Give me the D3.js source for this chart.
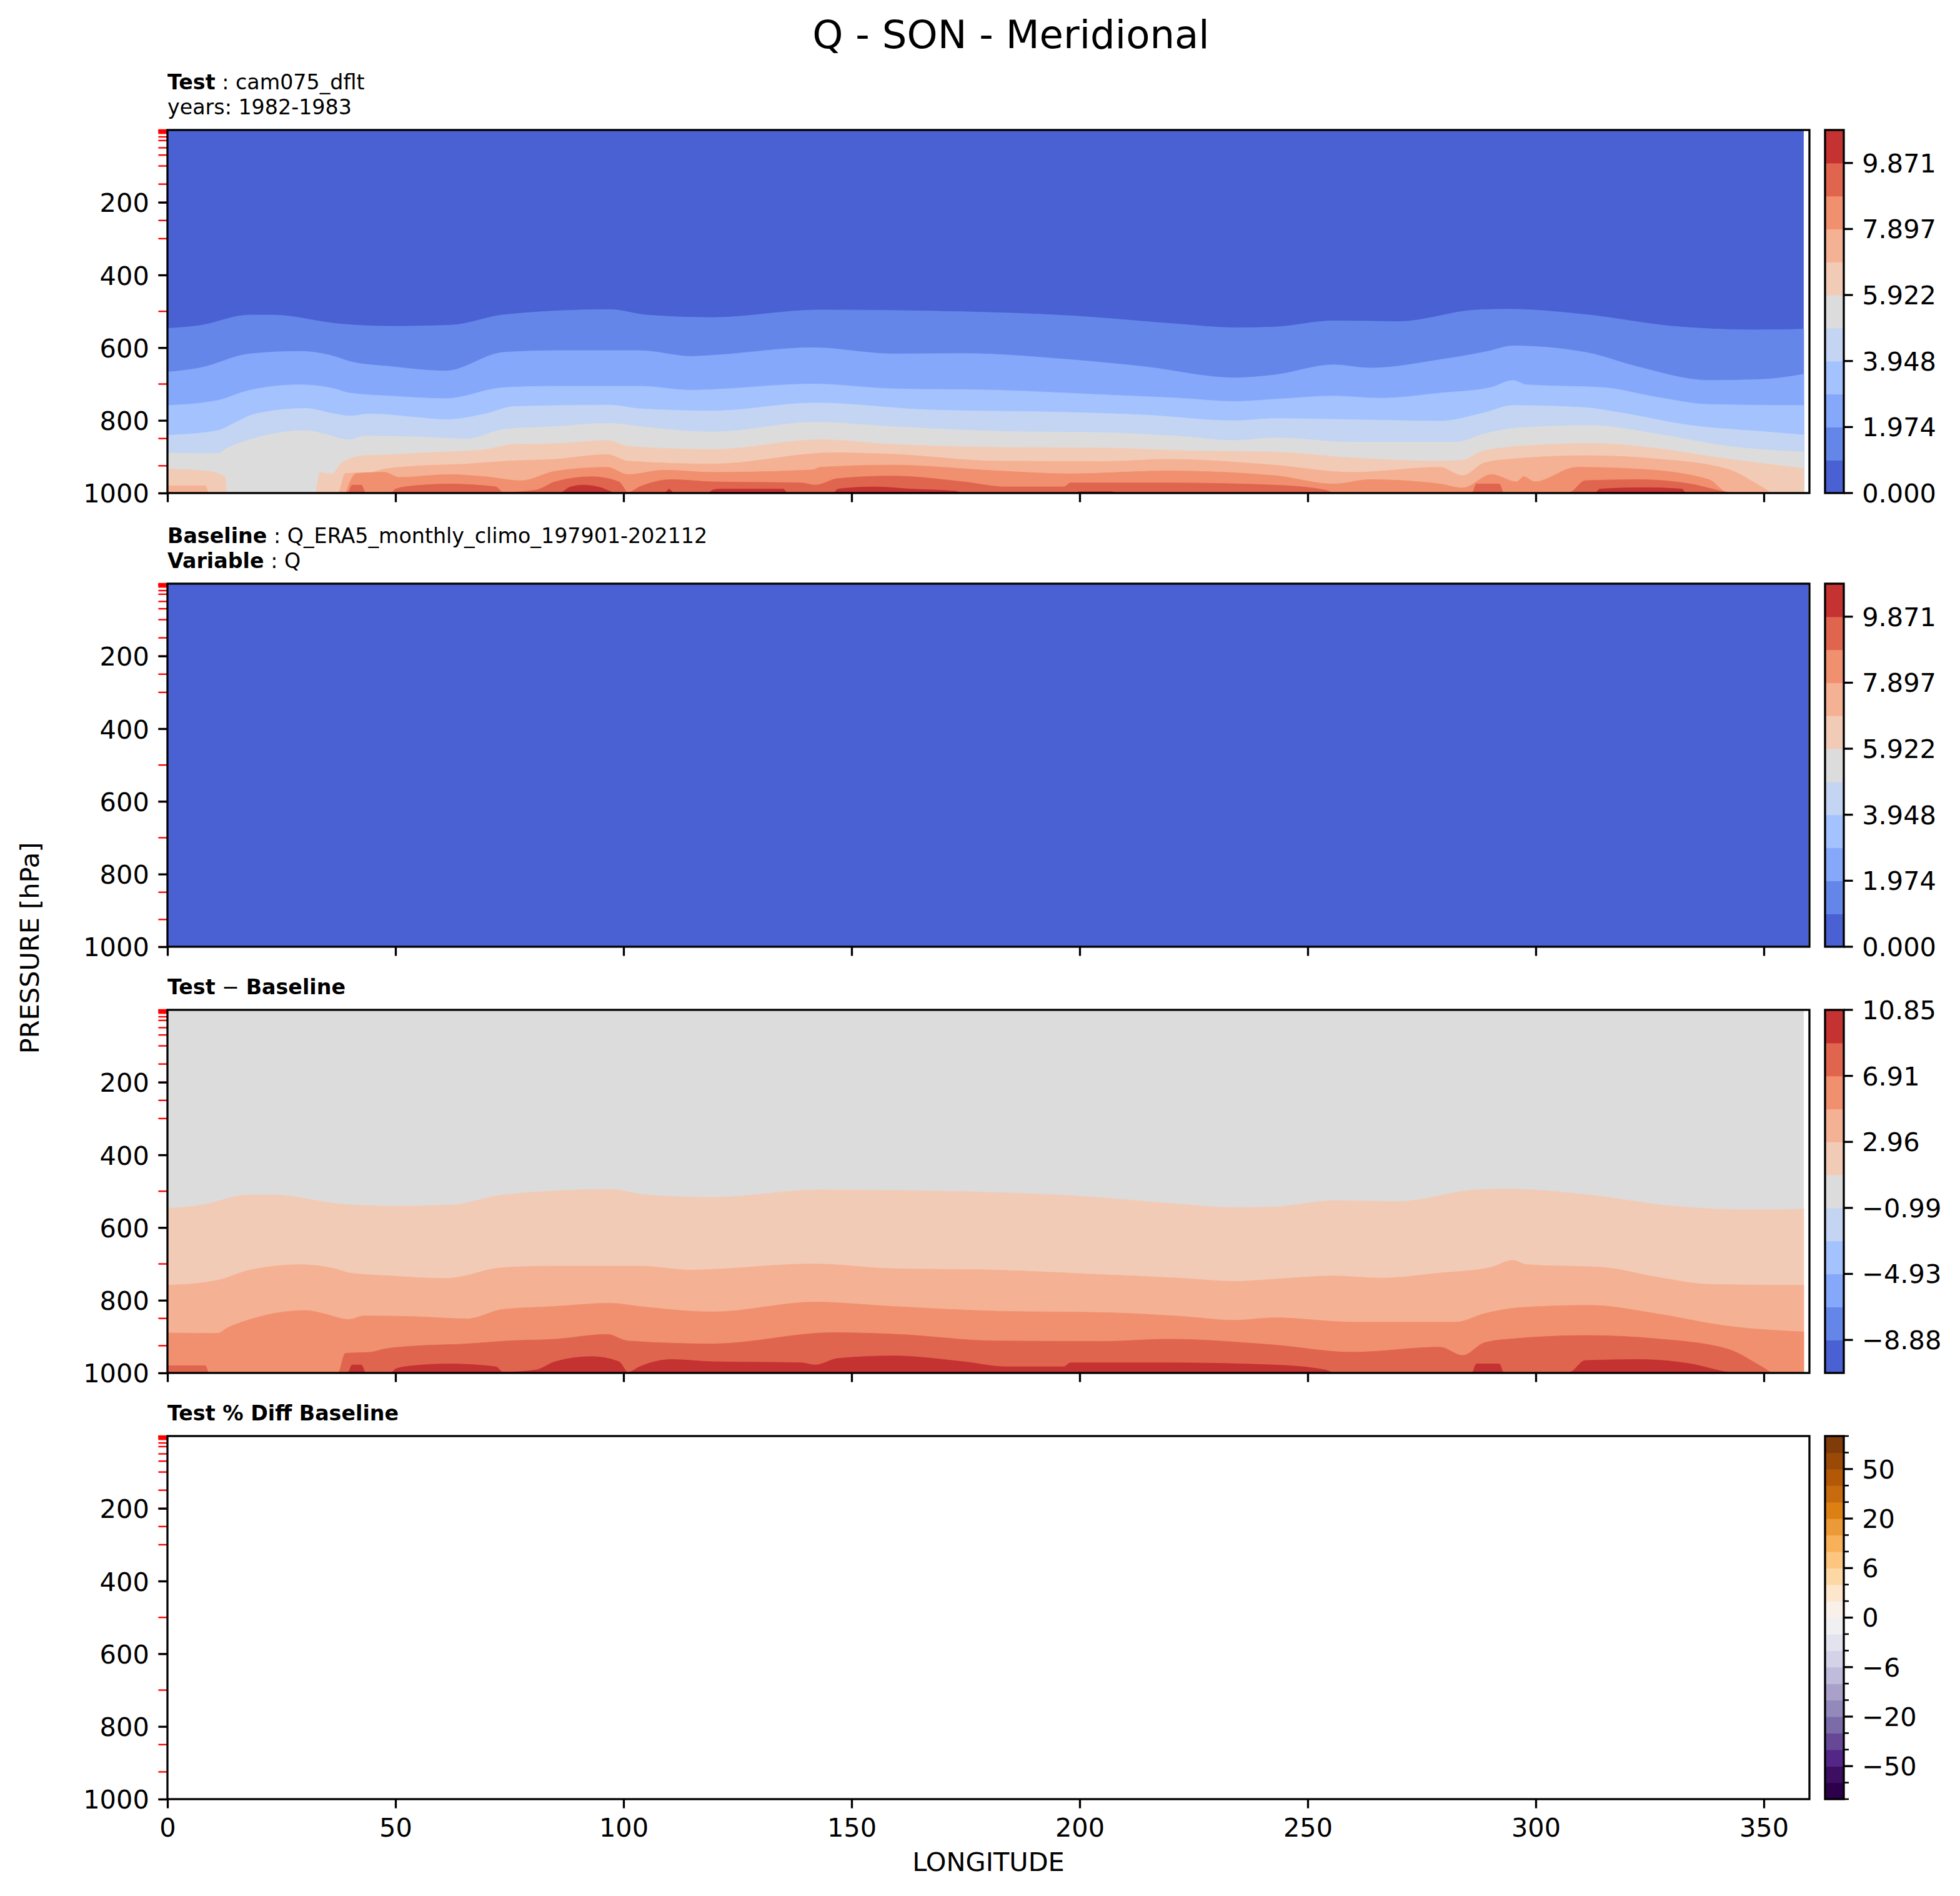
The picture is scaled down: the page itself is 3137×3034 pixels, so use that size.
<!DOCTYPE html>
<html>
<head>
<meta charset="utf-8">
<script src="https://cdn.jsdelivr.net/npm/d3@7"></script>
<style>
  body { margin: 0; background: #fff; }
  text { font-family: "DejaVu Sans", sans-serif; fill: #000; }
</style>
</head>
<body>
<svg id="fig" width="3137" height="3034"></svg>
<script>
// ---- values ----
const figTitle = "Q - SON - Meridional";

const lonTicks = [0, 50, 100, 150, 200, 250, 300, 350];
const presTicks = [200, 400, 600, 800, 1000];
const plevs = [1, 2, 3, 5, 7, 10, 20, 30, 50, 70, 100, 150, 200, 250, 300, 400, 500, 600, 700, 850, 925, 1000];

const qLevels = [0, 0.987, 1.974, 2.961, 3.948, 4.935, 5.922, 6.909, 7.897, 8.884, 9.871, 10.858];
const qTicks = [0, 1.974, 3.948, 5.922, 7.897, 9.871];
const diffLevels = [-10.854, -8.881, -6.907, -4.934, -2.960, -0.987, 0.987, 2.960, 4.934, 6.907, 8.881, 10.854];
const diffTicks = [-8.881, -4.934, -0.987, 2.960, 6.907, 10.854];
const pctLevels = [-100, -75, -50, -40, -30, -20, -10, -8, -6, -4, -2, 0, 2, 4, 6, 8, 10, 20, 30, 40, 50, 75, 100];
const pctTicks = [-50, -20, -6, 0, 6, 20, 50];

const coolwarm11 = ["#4961d2", "#6586e9", "#85a8fb", "#a4c2fe", "#c3d5f3", "#dcdcdc",
                    "#f2cbb7", "#f5b194", "#f1906f", "#e0654f", "#c43232"];
const puor22 = ["#2d004b", "#3d0e61", "#532787", "#664896", "#7b6ba8", "#9389ba", "#aaa1cb",
                "#bfbbda", "#d3d2e7", "#e3e3ef", "#f0f0f2", "#f9f0e9", "#fee6cc", "#fdd8a4",
                "#fdc57f", "#f8b059", "#ec9a37", "#dc8014", "#c86a0e", "#b35806", "#9a4a06", "#7f3b08"];

// test Q (g/kg): pressure (hPa) of each contour level along longitude, [lon, p]
const qBnd1 = [[0,547],[7,539],[18,510],[23,510],[38,535],[49,541],[62,538],[74,509],[97,495],[105,510],
  [119.5,517],[143,496],[174.5,501],[198,512],[221.6,535],[234,545],[242.7,543],[255.7,526],[270,528],
  [287,496],[294,494],[311,509],[330,541],[348,551],[358.75,549]];
const qBnd2 = [[0,667],[7,656],[18,617],[29,610],[36.6,624],[40,638],[49,652],[61,664],[73.6,613],[85,608],
  [103.5,608],[115,624],[119.5,621],[141.5,600],[159,617],[174.5,616],[198,633],[214,652],[234,683],
  [242.7,675],[255.7,647],[263.6,656],[279,633],[289.5,610],[295,595],[311,613],[322.5,653],[338,690],
  [350,687],[358.75,673]];
const qBnd3 = [[0,759],[11,745],[18,717],[29,702],[36.6,713],[40,725],[49,733],[61,740],[73.6,710],[85,706],
  [103.5,706],[115,717],[119.5,715],[141.5,700],[159,713],[182,717],[206,730],[222,739],[234,748],
  [242.7,742],[255.7,733],[266,739],[279,725],[290,710],[295,690],[298,702],[315,710],[326.5,736],
  [338,756],[358.75,759]];
const qBnd4 = [[0,841],[11,828],[14.6,808],[19.3,782],[30.3,767],[36.6,782],[40,788],[44.5,782],[54,791],
  [61,798],[69.7,782],[76,762],[97,758],[103.5,768],[119.5,774],[142,752],[166.6,771],[198,778],[214,785],
  [234,801],[242.7,795],[263.6,799],[279,802],[288.7,779],[295,759],[311,765],[318.6,779],[334,814],
  [350,831],[358.75,840]];
const qBnd5 = [[0,890],[11,891],[13,877],[17.8,854],[30.3,828],[34.3,837],[39.8,853],[43,843],[54,845],
  [65.7,851],[73.6,825],[85,817],[97,808],[103.5,817],[119.5,832],[142,805],[159,817],[182,830],[206,834],
  [222,844],[234,855],[242.7,848],[259.7,860],[282.5,860],[288.7,837],[296.6,820],[312,814],[326.5,837],
  [342,871],[358.75,887]];
const qBnd6 = [[0,934],[9,940],[12.7,957],[13,1000],[32.3,1000],[33.5,943],[36,948],[38.2,917],[43,897],
  [49,894],[58.6,888],[69.7,880],[76,866],[85,864],[96.4,855],[101,871],[119.5,880],[143,853],[159,866],
  [182,874],[206,876],[222,883],[242.7,887],[259.7,903],[279,912],[284,909],[288.7,883],[303,866],
  [312,863],[326.5,877],[342,906],[358.75,932]];
const qBnd7 = [[0,980],[8.3,980],[9.1,1000],[37.4,1000],[39,946],[44.5,943],[47.6,934],[54,926],[65.7,920],
  [74.4,912],[85,907],[96.4,894],[101,912],[119.5,920],[146,889],[159,893],[182,912],[206,913],[219,907],
  [242.7,923],[259.7,943],[279,929],[284,952],[288.7,917],[295,906],[311,897],[326.5,906],[342,934],
  [350,986],[352,1000],[358.75,1000]];
const qBnd8 = [[0,1000],[39,1000],[39.8,975],[41.4,946],[47.6,943],[50.8,957],[61.8,949],[69.7,955],
  [77.5,966],[85,940],[96.4,929],[101,949],[109,937],[119.5,943],[141.5,936],[143,929],[159,923],[182,939],
  [198,947],[219,939],[242.7,952],[255.7,975],[263.6,963],[279,975],[284,986],[290.3,949],[295.8,969],
  [297.4,955],[299.7,969],[309,929],[322.5,934],[338,963],[342,998],[346,1000],[358.75,1000]];
const qBnd9 = [[0,1000],[39.5,1000],[40.5,978],[42.5,978],[43.5,1000],[49,1000],[50,989],[54,980],
  [61.8,975],[72,983],[73.6,998],[80.7,992],[85,969],[93,955],[99,969],[101,998],[103.5,983],[110.5,963],
  [119.5,969],[139,972],[142,978],[147,960],[159,953],[174.5,969],[184,983],[196.5,983],[198,972],
  [219,972],[242.7,978],[254,992],[255.7,1000],[286,1000],[287,975],[292,975],[293,1000],[307,1000],
  [307.6,998],[310.8,966],[322.5,963],[334,975],[342,998],[343,1000],[358.75,1000]];
const qBnd10 = [[0,1000],[86,1000],[88,985],[91,978],[95,985],[97,995],[98,1000],[109,1000],[110,989],
  [111,1000],[118.5,1000],[119.5,992],[121,989],[135,989],[136,1000],[146,1000],[147,989],[155,983],
  [163,989],[173,995],[174,1000],[199,1000],[200,996],[207,996],[208,1000],[313,1000],[314,989],
  [324,985],[332,989],[333,1000],[358.75,1000]];

const testLonMax = 358.75;
const testMin = 0.0;          // g/kg near model top
const baseLonMax = 359.75;
const baseMin = 0.0;          // baseline is in kg/kg, all values < 0.02
const baseMax = 0.0195;
const pctMin = 1200;          // % difference is far outside the contour range

// ---- layout ----
const axL = 268, axR = 2896, cbL = 2921, cbW = 30;
const lw = 3.3, tickLen = 14.6, tickPad = 14.6;
const tickFont = 41.5, labFont = 33.3;

const svg = d3.select("#fig");

const x = d3.scaleLinear().domain([0, 360]).range([axL, axR]);

const qContours = [qBnd1, qBnd2, qBnd3, qBnd4, qBnd5, qBnd6, qBnd7, qBnd8, qBnd9, qBnd10]
  .map((pts, i) => ({ level: qLevels[i + 1], pts: pts }));

const panels = [
  { top: 208, lines: [[["Test", true], [" : cam075_dflt", false]], [["years: 1982-1983", false]]],
    contours: qContours, vmin: testMin, lonMax: testLonMax,
    levels: qLevels, colors: coolwarm11, ticks: qTicks, fmt: d => d.toFixed(3) },
  { top: 934, lines: [[["Baseline", true], [" : Q_ERA5_monthly_climo_197901-202112", false]], [["Variable", true], [" : Q", false]]],
    contours: qContours.filter(c => c.level <= baseMax), vmin: baseMin, lonMax: baseLonMax,
    levels: qLevels, colors: coolwarm11, ticks: qTicks, fmt: d => d.toFixed(3) },
  { top: 1616, lines: [[["Test", true], [" \u2212 ", false], ["Baseline", true]]],
    contours: qContours, vmin: testMin - baseMax, lonMax: testLonMax,
    levels: diffLevels, colors: coolwarm11, ticks: diffTicks, fmt: d => d.toFixed(2).replace("-", "\u2212") },
  { top: 2298, lines: [[["Test % Diff Baseline", true]]],
    contours: [], vmin: pctMin, lonMax: testLonMax,
    levels: pctLevels, colors: puor22, ticks: pctTicks, fmt: d => String(d).replace("-", "\u2212") }
];
const panelH = 581;

// title
svg.append("text")
  .attr("x", 1618).attr("y", 77)
  .attr("text-anchor", "middle")
  .style("font-size", "62.5px")
  .text(figTitle);

panels.forEach(function(P, pi) {
  const y = d3.scaleLinear().domain([1, 1000]).range([P.top, P.top + panelH]);
  const g = svg.append("g");
  const clipId = "clip" + pi;
  g.append("clipPath").attr("id", clipId)
    .append("rect").attr("x", axL).attr("y", P.top).attr("width", axR - axL).attr("height", panelH);
  const plot = g.append("g").attr("clip-path", "url(#" + clipId + ")");

  // background band: the bin holding the field minimum
  const bg = d3.bisectRight(P.levels, P.vmin) - 1;
  if (bg >= 0 && bg < P.colors.length) {
    plot.append("rect")
      .attr("x", x(0)).attr("y", y(1))
      .attr("width", x(P.lonMax) - x(0)).attr("height", y(1000) - y(1))
      .attr("fill", P.colors[bg]);
  }

  // filled bands: everything below a contour is at least that level
  const area = d3.area()
    .x(d => x(d[0]))
    .y0(y(1000))
    .y1(d => y(d[1]))
    .curve(d3.curveMonotoneX);
  P.contours.forEach(function(c) {
    const k = d3.minIndex(P.levels, l => Math.abs(l - c.level));
    if (Math.abs(P.levels[k] - c.level) > 0.01 || k >= P.colors.length) return;
    plot.append("path")
      .datum(c.pts)
      .attr("fill", P.colors[k])
      .attr("stroke", P.colors[k])
      .attr("stroke-width", 0.8)
      .attr("d", area);
  });

  // red minor ticks at the data pressure levels
  g.selectAll(".plev").data(plevs).enter().append("line")
    .attr("x1", axL - tickLen).attr("x2", axL)
    .attr("y1", d => y(d)).attr("y2", d => y(d))
    .attr("stroke", "red").attr("stroke-width", 2.4);

  // y axis
  const yAxis = d3.axisLeft(y).tickValues(presTicks).tickSize(tickLen).tickPadding(tickPad).tickFormat(d3.format("d"));
  const ya = g.append("g").attr("transform", "translate(" + axL + ",0)").call(yAxis);
  ya.select(".domain").remove();
  ya.selectAll(".tick line").attr("stroke-width", lw);
  ya.selectAll(".tick text").style("font-size", tickFont + "px").attr("font-family", "DejaVu Sans").attr("dy", "0.36em");

  // x axis
  const xAxis = d3.axisBottom(x).tickValues(lonTicks).tickSize(tickLen).tickPadding(tickPad);
  if (pi < 3) xAxis.tickFormat("");
  const xa = g.append("g").attr("transform", "translate(0," + (P.top + panelH) + ")").call(xAxis);
  xa.select(".domain").remove();
  xa.selectAll(".tick line").attr("stroke-width", lw);
  xa.selectAll(".tick text").style("font-size", tickFont + "px").attr("font-family", "DejaVu Sans").attr("dy", "0.74em");

  // frame
  g.append("rect")
    .attr("x", axL).attr("y", P.top).attr("width", axR - axL).attr("height", panelH)
    .attr("fill", "none").attr("stroke", "#000").attr("stroke-width", lw);

  // panel labels
  const nl = P.lines.length;
  P.lines.forEach(function(line, li) {
    const t = g.append("text")
      .attr("x", axL).attr("y", P.top - 25 - (nl - 1 - li) * 40)
      .attr("xml:space", "preserve")
      .style("font-size", labFont + "px");
    line.forEach(function(part) {
      t.append("tspan").attr("font-weight", part[1] ? "bold" : "normal")
        .style("white-space", "pre").text(part[0]);
    });
  });

  // colorbar with uniform bins
  const nb = P.colors.length;
  const cb = d3.scaleLinear().domain([0, nb]).range([P.top + panelH, P.top]);
  const cg = g.append("g");
  cg.selectAll("rect.bin").data(P.colors).enter().append("rect")
    .attr("x", cbL).attr("width", cbW)
    .attr("y", (d, i) => cb(i + 1)).attr("height", (d, i) => cb(i) - cb(i + 1) + 0.6)
    .attr("fill", d => d);
  const idx = v => d3.minIndex(P.levels, l => Math.abs(l - v));
  if (pi === 3) {
    cg.selectAll("line.minor").data(P.levels.filter(l => P.ticks.indexOf(l) < 0)).enter().append("line")
      .attr("x1", cbL + cbW).attr("x2", cbL + cbW + 8)
      .attr("y1", d => cb(idx(d))).attr("y2", d => cb(idx(d)))
      .attr("stroke", "#000").attr("stroke-width", 2.6);
  }
  cg.selectAll("line.major").data(P.ticks).enter().append("line")
    .attr("x1", cbL + cbW).attr("x2", cbL + cbW + tickLen)
    .attr("y1", d => cb(idx(d))).attr("y2", d => cb(idx(d)))
    .attr("stroke", "#000").attr("stroke-width", lw);
  cg.selectAll("text.cbl").data(P.ticks).enter().append("text")
    .attr("x", cbL + cbW + tickLen + tickPad)
    .attr("y", d => cb(idx(d)))
    .attr("dy", "0.36em")
    .style("font-size", tickFont + "px")
    .text(P.fmt);
  cg.append("rect")
    .attr("x", cbL).attr("y", P.top).attr("width", cbW).attr("height", panelH)
    .attr("fill", "none").attr("stroke", "#000").attr("stroke-width", lw);
});

// axis labels
svg.append("text")
  .attr("x", (axL + axR) / 2).attr("y", 2994)
  .attr("text-anchor", "middle")
  .style("font-size", tickFont + "px")
  .text("LONGITUDE");
svg.append("text")
  .attr("transform", "translate(62,1517) rotate(-90)")
  .attr("text-anchor", "middle")
  .style("font-size", tickFont + "px")
  .text("PRESSURE [hPa]");
</script>
</body>
</html>
